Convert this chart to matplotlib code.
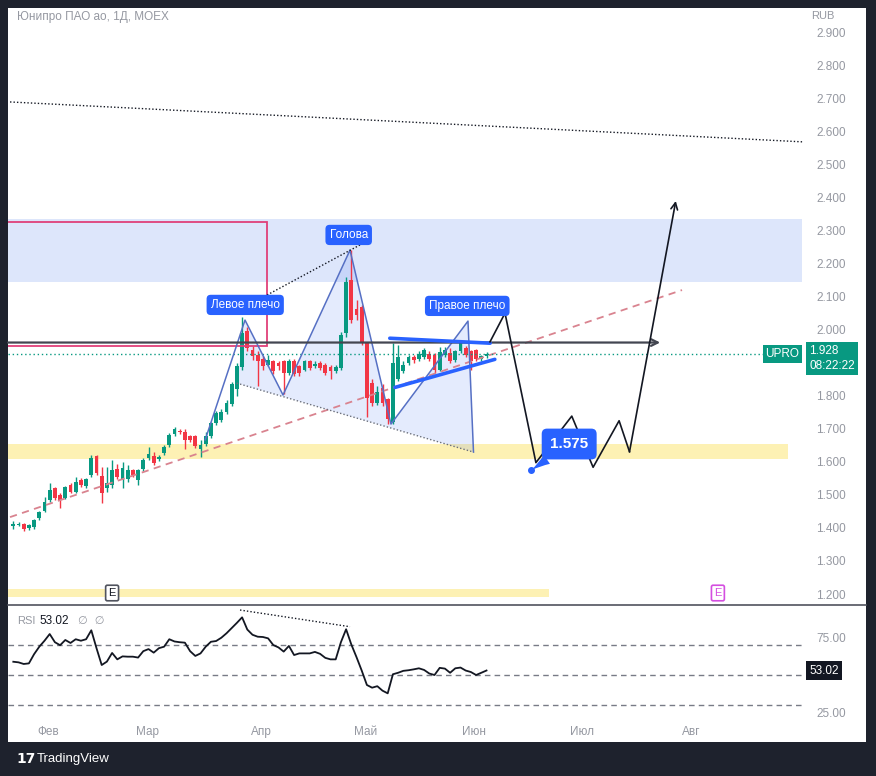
import matplotlib
matplotlib.use('Agg')
from matplotlib import pyplot as plt
from matplotlib import transforms
from matplotlib.patches import Rectangle, Polygon
from matplotlib.lines import Line2D

# ---- data (x = bar index, y = price in RUB) ----
title = 'Юнипро ПАО ао, 1Д, MOEX'
ticker = 'UPRO'
clock = '08:22:22'

opens = [1.405, 1.410, 1.412, 1.400, 1.402, 1.430, 1.452, 1.485, 1.520, 1.500,
         1.490, 1.530, 1.510, 1.545, 1.528, 1.560, 1.618, 1.558, 1.520, 1.530,
         1.578, 1.545, 1.548, 1.575, 1.545, 1.578, 1.612, 1.618, 1.608, 1.628,
         1.650, 1.685, 1.695, 1.690, 1.678, 1.678, 1.640, 1.655, 1.680, 1.718,
         1.728, 1.752, 1.775, 1.820, 1.888, 1.998, 1.940, 1.925, 1.912, 1.895,
         1.905, 1.900, 1.905, 1.870, 1.905, 1.890, 1.880, 1.905, 1.890, 1.900,
         1.895, 1.888, 1.875, 1.885, 1.990, 2.150, 2.065, 2.070, 1.960, 1.840,
         1.780, 1.825, 1.790, 1.720, 1.852, 1.875, 1.900, 1.918, 1.912, 1.918,
         1.928, 1.925, 1.880, 1.925, 1.930, 1.908, 1.935, 1.945, 1.935, 1.938,
         1.912, 1.920]
highs = [1.420, 1.418, 1.415, 1.412, 1.428, 1.452, 1.495, 1.535, 1.525, 1.505,
         1.528, 1.535, 1.555, 1.550, 1.552, 1.620, 1.620, 1.585, 1.585, 1.605,
         1.595, 1.600, 1.590, 1.580, 1.580, 1.612, 1.645, 1.630, 1.620, 1.650,
         1.688, 1.705, 1.700, 1.700, 1.682, 1.682, 1.668, 1.690, 1.722, 1.755,
         1.760, 1.788, 1.842, 1.900, 2.040, 2.010, 1.950, 1.935, 1.920, 1.925,
         1.910, 1.905, 1.910, 1.912, 1.912, 1.895, 1.910, 1.910, 1.905, 1.905,
         1.900, 1.895, 1.895, 1.995, 2.160, 2.242, 2.090, 2.075, 1.965, 1.850,
         1.830, 1.835, 1.795, 1.960, 1.955, 1.905, 1.925, 1.925, 1.935, 1.945,
         1.935, 1.930, 1.948, 1.948, 1.945, 1.940, 1.965, 1.950, 1.940, 1.942,
         1.925, 1.932]
lows = [1.398, 1.405, 1.390, 1.395, 1.398, 1.425, 1.448, 1.480, 1.485, 1.460,
        1.488, 1.505, 1.505, 1.525, 1.522, 1.555, 1.560, 1.475, 1.510, 1.520,
        1.548, 1.520, 1.540, 1.555, 1.530, 1.572, 1.605, 1.590, 1.603, 1.622,
        1.645, 1.680, 1.685, 1.640, 1.662, 1.642, 1.615, 1.648, 1.672, 1.712,
        1.720, 1.745, 1.770, 1.800, 1.880, 1.935, 1.910, 1.830, 1.880, 1.890,
        1.868, 1.880, 1.805, 1.865, 1.860, 1.862, 1.875, 1.880, 1.885, 1.878,
        1.865, 1.850, 1.870, 1.880, 1.980, 2.020, 2.030, 1.955, 1.735, 1.770,
        1.772, 1.770, 1.715, 1.715, 1.845, 1.870, 1.895, 1.900, 1.905, 1.912,
        1.905, 1.870, 1.875, 1.918, 1.900, 1.902, 1.930, 1.918, 1.880, 1.905,
        1.905, 1.915]
closes = [1.412, 1.413, 1.398, 1.408, 1.425, 1.448, 1.480, 1.515, 1.490, 1.485,
          1.524, 1.510, 1.540, 1.530, 1.548, 1.612, 1.567, 1.505, 1.535, 1.575,
          1.555, 1.582, 1.575, 1.562, 1.575, 1.605, 1.625, 1.598, 1.615, 1.645,
          1.682, 1.700, 1.690, 1.668, 1.668, 1.648, 1.650, 1.680, 1.718, 1.748,
          1.750, 1.780, 1.835, 1.890, 1.990, 1.945, 1.920, 1.905, 1.890, 1.910,
          1.875, 1.890, 1.870, 1.905, 1.868, 1.870, 1.905, 1.885, 1.898, 1.885,
          1.870, 1.875, 1.888, 1.985, 2.145, 2.030, 2.045, 1.960, 1.795, 1.780,
          1.812, 1.780, 1.730, 1.900, 1.918, 1.895, 1.918, 1.908, 1.928, 1.938,
          1.912, 1.878, 1.932, 1.940, 1.905, 1.935, 1.960, 1.925, 1.905, 1.912,
          1.920, 1.928]
rsi = [58.9, 58.5, 57.4, 57.8, 64.0, 69.0, 73.0, 77.5, 72.0, 70.0,
       73.5, 71.5, 74.0, 73.0, 74.0, 80.0, 68.0, 56.7, 59.0, 64.8,
       60.5, 62.5, 62.3, 62.3, 61.7, 66.0, 67.4, 65.0, 68.0, 69.0,
       74.0, 72.5, 72.0, 71.7, 66.0, 62.8, 64.5, 69.0, 72.3, 72.8,
       75.0, 78.0, 81.5, 85.0, 88.7, 80.5, 77.0, 75.7, 75.5, 74.6,
       70.1, 68.5, 65.7, 69.5, 63.4, 64.5, 64.5, 64.5, 65.5, 64.2,
       61.5, 60.5, 60.5, 72.0, 80.7, 70.5, 62.0, 53.0, 43.3, 41.5,
       42.5, 39.5, 37.7, 50.5, 51.5, 52.8, 53.2, 53.8, 54.5, 53.4,
       51.0, 50.0, 54.8, 54.3, 51.5, 54.5, 55.0, 53.0, 52.0, 50.0,
       51.5, 53.02]

month_labels = ['Фев', 'Мар', 'Апр', 'Май', 'Июн', 'Июл', 'Авг']
month_pos = [6.7, 25.9, 47.8, 67.8, 88.6, 109.4, 130.3]
# 1.900 sits under the last-price badge, so it is not shown
price_ticks = [1.2, 1.3, 1.4, 1.5, 1.6, 1.7, 1.8, 2.0, 2.1, 2.2, 2.3,
               2.4, 2.5, 2.6, 2.7, 2.8, 2.9]
rsi_levels = [70, 50, 30]
rsi_ticks = [25, 75]

# drawings on the chart
x_left, x_right = -1.02, 152.25
blue_zone = (2.145, 2.336, 151.7)        # low, high, right end
yellow_zone = (1.609, 1.655, 149.0)
yellow_low_zone = (1.191, 1.215, 103.0)
pink_box = (1.953, 2.327, -6.0, 48.85)
arrow_level = (1.962, 124.4)
top_line_x, top_line_y = [-0.63, 151.9], [2.691, 2.570]
trend_x, trend_y = [-0.63, 128.6], [1.433, 2.121]
hs_x = [36.9, 44.56, 51.87, 64.75, 72.63, 87.44, 88.5]
hs_y = [1.667, 2.030, 1.803, 2.242, 1.715, 2.027, 1.630]
neck_x, neck_y = [42.96, 88.5], [1.839, 1.630]
head_dot_x, head_dot_y = [48.8, 66.7], [2.106, 2.258]
wedge_top_x, wedge_top_y = [72.4, 91.7], [1.975, 1.960]
wedge_bot_x, wedge_bot_y = [73.4, 92.6], [1.826, 1.911]
path_x = [91.67, 94.56, 100.5, 107.4, 111.5, 116.5, 118.5, 127.4]
path_y = [1.964, 2.051, 1.598, 1.739, 1.584, 1.725, 1.631, 2.391]
labels = ['Левое плечо', 'Голова', 'Правое плечо']
label_x = [44.6, 64.5, 87.3]
label_y = [2.076, 2.288, 2.073]
target_x, target_y = 99.6, 1.575
target_box_x, target_box_y = 106.9, 1.6545
earn_x = [19.0, 135.5]
earn_y = 1.203
price_line_end = 144.2
rsi_div_x, rsi_div_y = [43.6, 64.75], [93.6, 82.4]

# ---- styling ----
plt.rcParams['font.family'] = ['Liberation Sans', 'DejaVu Sans']
GREEN, RED, BLUE = '#089981', '#f23645', '#2962ff'
GREY = '#9598a1'

fig = plt.figure(figsize=(8.76, 7.76), dpi=100, facecolor='#1e222d')
W, H = 876, 776
fig.patches.append(Rectangle((8 / W, 34 / H), 858 / W, 734 / H, transform=fig.transFigure,
                             fc='white', ec='none', zorder=-10))
ax = fig.add_axes([8 / W, 172 / H, 797 / W, 596 / H])
ax_rsi = fig.add_axes([8 / W, 60 / H, 797 / W, 110 / H], sharex=ax)
for a in (ax, ax_rsi):
    a.set_facecolor('none')
    for s in a.spines.values():
        s.set_visible(False)
fig.add_artist(Line2D([8 / W, 866 / W], [1 - 605 / H] * 2, color='#50535e', lw=1.2))

idx = list(range(len(closes)))

# zones
ax.add_patch(Rectangle((x_left, blue_zone[0]), blue_zone[2] - x_left, blue_zone[1] - blue_zone[0],
                       fc='#dde6fb', ec='none', zorder=1))
ax.add_patch(Rectangle((x_left, yellow_zone[0]), yellow_zone[2] - x_left, yellow_zone[1] - yellow_zone[0],
                       fc='#fdf1b4', ec='none', zorder=1))
ax.add_patch(Rectangle((x_left, yellow_low_zone[0]), yellow_low_zone[2] - x_left,
                       yellow_low_zone[1] - yellow_low_zone[0], fc='#fdf1b4', ec='none', zorder=1))
ax.add_patch(Rectangle((pink_box[2], pink_box[0]), pink_box[3] - pink_box[2], pink_box[1] - pink_box[0],
                       fc='none', ec='#e0407a', lw=1.3, zorder=5))

# head & shoulders fill
poly = [(neck_x[0], neck_y[0])] + list(zip(hs_x[1:], hs_y[1:]))
ax.add_patch(Polygon(poly, closed=True, fc=(0.16, 0.38, 0.95, 0.12), ec='none', zorder=2))

# candles
colors = [GREEN if c >= o else RED for o, c in zip(opens, closes)]
bottoms = [min(o, c) for o, c in zip(opens, closes)]
heights = [max(abs(c - o), 0.003) for o, c in zip(opens, closes)]
ax.vlines(idx, lows, highs, colors=colors, lw=1, zorder=3)
ax.bar(idx, heights, bottom=bottoms, width=0.75, color=colors, zorder=4)

# lines
ax.plot(top_line_x, top_line_y, color='#131722', lw=1, ls=(0, (1, 1.5)), zorder=5)
ax.plot(trend_x, trend_y, color='#d9838f', lw=1.3, ls=(0, (4, 3)), zorder=5)
ax.plot(hs_x, hs_y, color='#5670c4', lw=1.1, zorder=6)
ax.plot(neck_x, neck_y, color='#6b6f7a', lw=1, ls=(0, (1, 1.5)), zorder=6)
ax.plot(head_dot_x, head_dot_y, color='#131722', lw=1, ls=(0, (1, 1.5)), zorder=6)
ax.annotate('', xy=(arrow_level[1], arrow_level[0]), xytext=(x_left, arrow_level[0]),
            arrowprops=dict(arrowstyle='->', color='#434651', lw=1.6, mutation_scale=12,
                            shrinkA=0, shrinkB=0), zorder=6)
ax.plot([x_left, price_line_end], [closes[-1]] * 2, color=GREEN, lw=1, ls=(0, (1, 2)), zorder=5)
ax.plot(wedge_top_x, wedge_top_y, color=BLUE, lw=2.6, solid_capstyle='round', zorder=7)
ax.plot(wedge_bot_x, wedge_bot_y, color=BLUE, lw=2.6, solid_capstyle='round', zorder=7)
ax.plot(path_x[:-1], path_y[:-1], color='#131722', lw=1.2, zorder=7)
ax.annotate('', xy=(path_x[-1], path_y[-1]), xytext=(path_x[-2], path_y[-2]),
            arrowprops=dict(arrowstyle='->', color='#131722', lw=1.2, mutation_scale=12,
                            shrinkA=0, shrinkB=0), zorder=7)

# labels
for t, lx, ly in zip(labels, label_x, label_y):
    ax.text(lx, ly, t, ha='center', va='center', color='white', fontsize=8.5, zorder=9,
            bbox=dict(boxstyle='round,pad=0.35,rounding_size=0.35', fc=BLUE, ec='none'))
ax.plot(target_x, target_y, 'o', ms=4, color=BLUE, zorder=9)
ax.annotate(f'{target_y:.3f}', xy=(target_x, target_y), xytext=(target_box_x, target_box_y),
            ha='center', va='center', color='white', fontsize=11, fontweight='bold', zorder=9,
            bbox=dict(boxstyle='round,pad=0.55,rounding_size=0.35', fc=BLUE, ec='none'),
            arrowprops=dict(arrowstyle='wedge,tail_width=0.7,shrink_factor=0.4', fc=BLUE, ec='none',
                            shrinkA=0, shrinkB=0))
ax.text(earn_x[0], earn_y, 'E', ha='center', va='center', fontsize=8, color='#131722', zorder=9,
        bbox=dict(boxstyle='round,pad=0.25,rounding_size=0.15', fc='white', ec='#50535e', lw=1.2))
ax.text(earn_x[1], earn_y, 'E', ha='center', va='center', fontsize=8, color='#d44ee0', zorder=9,
        bbox=dict(boxstyle='round,pad=0.25,rounding_size=0.15', fc='white', ec='#d44ee0', lw=1.2))

# axes / scale
ax.set_xlim(x_left, x_right)
ax.set_ylim(1.1697, 2.9757)
ax.yaxis.tick_right()
ax.set_yticks(price_ticks)
ax.set_yticklabels([f'{v:.3f}' for v in price_ticks])
ax.tick_params(axis='y', length=0, pad=8, labelcolor=GREY, labelsize=8.5)
ax.tick_params(axis='x', bottom=False, labelbottom=False)

blend = transforms.blended_transform_factory(ax.transAxes, ax.transData)
ax.annotate(ticker, xy=(1.0, closes[-1]), xycoords=blend, xytext=(-4, 0), textcoords='offset points',
            ha='right', va='center', color='white', fontsize=8.5, zorder=10,
            bbox=dict(boxstyle='square,pad=0.25', fc=GREEN, ec='none'))
ax.annotate(f'{closes[-1]:.3f}\n{clock}', xy=(1.0, closes[-1]), xycoords=blend, xytext=(3, 6),
            textcoords='offset points', ha='left', va='top', color='white', fontsize=8.5,
            linespacing=1.25, annotation_clip=False, zorder=10,
            bbox=dict(boxstyle='square,pad=0.3', fc=GREEN, ec='none'))

fig.text(17 / W, 1 - 17 / H, title, color=GREY, fontsize=8.5, ha='left', va='center')
fig.text(823 / W, 1 - 16 / H, 'RUB', color=GREY, fontsize=8, ha='center', va='center')

# RSI panel
for lvl in rsi_levels:
    ax_rsi.axhline(lvl, color='#787b86', lw=1, ls=(0, (4, 3)))
ax_rsi.plot(idx, rsi, color='#131722', lw=1.3)
ax_rsi.plot(rsi_div_x, rsi_div_y, color='#131722', lw=1, ls=(0, (1, 1.5)))
ax_rsi.set_ylim(22.5, 96.3)
ax_rsi.yaxis.tick_right()
ax_rsi.set_yticks(rsi_ticks)
ax_rsi.set_yticklabels([f'{v:.2f}' for v in rsi_ticks])
ax_rsi.tick_params(axis='y', length=0, pad=8, labelcolor=GREY, labelsize=8.5)
ax_rsi.set_xticks(month_pos)
ax_rsi.set_xticklabels(month_labels)
ax_rsi.tick_params(axis='x', length=0, pad=7, labelcolor=GREY, labelsize=8.5)
rblend = transforms.blended_transform_factory(ax_rsi.transAxes, ax_rsi.transData)
ax_rsi.annotate(f'{rsi[-1]:.2f}', xy=(1.0, rsi[-1]), xycoords=rblend, xytext=(3, 0),
                textcoords='offset points', ha='left', va='center', color='white', fontsize=8.5,
                annotation_clip=False, bbox=dict(boxstyle='square,pad=0.3', fc='#131722', ec='none'))
ax_rsi.text(0.0113, 0.864, 'RSI', transform=ax_rsi.transAxes, color=GREY, fontsize=8, va='center')
ax_rsi.text(0.040, 0.864, f'{rsi[-1]:.2f}', transform=ax_rsi.transAxes, color='#131722', fontsize=8.5,
            va='center')
ax_rsi.text(0.088, 0.864, '∅  ∅', transform=ax_rsi.transAxes, color=GREY, fontsize=8, va='center',
            family=['DejaVu Sans'])

# footer
fig.text(16 / W, 1 - 759 / H, '17', color='white', fontsize=10, fontweight='heavy', ha='left',
         va='center', family=['DejaVu Sans'])
fig.text(37 / W, 1 - 759 / H, 'TradingView', color='white', fontsize=9.5, ha='left', va='center')

fig.savefig('out.png', dpi=100, facecolor=fig.get_facecolor())
